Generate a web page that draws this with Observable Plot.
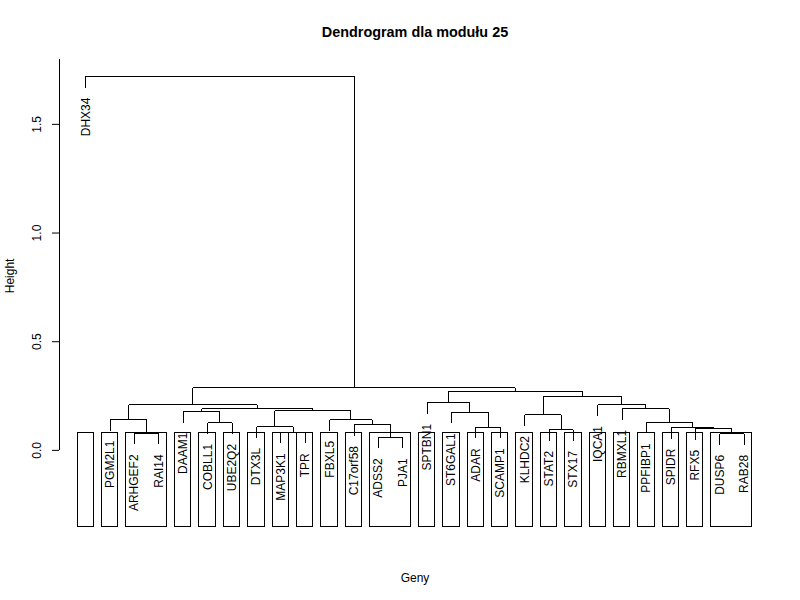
<!DOCTYPE html>
<html>
<head>
<meta charset="utf-8">
<script src="https://cdn.jsdelivr.net/npm/d3@7"></script>
<script src="https://cdn.jsdelivr.net/npm/@observablehq/plot@0.6"></script>
<style>
  html, body { margin: 0; padding: 0; background: white; }
  #chart svg { display: block; }
</style>
</head>
<body>
<div id="chart"></div>
<script>
// Leaf labels in dendrogram order
const leaves = ["DHX34","PGM2L1","ARHGEF2","RAI14","DAAM1","COBLL1","UBE2Q2","DTX3L","MAP3K1","TPR",
  "FBXL5","C17orf58","ADSS2","PJA1","SPTBN1","ST6GAL1","ADAR","SCAMP1","KLHDC2","STAT2",
  "STX17","IQCA1","RBMXL1","PPFIBP1","SPIDR","RFX5","DUSP6","RAB28"];

// hclust-style merge table: negative = leaf (1-based position), positive = earlier merge step (1-based)
const mergeLeft  = [-13,-27,-3,-9,-20,-26,-17,-25,-8,-12,-6,-24,-11,-2,-19,-16,-5, 9,17,-23,14,-22,-15,15,23,21,-1];
const mergeRight = [-14,-28,-4,-10,-21, 2,-18, 6, 4,  1,-7,  8, 10, 3,  5,  7,11,13,18, 12,19, 20, 16,22,24,25,26];
const mergeHeight = [0.061,0.077,0.079,0.084,0.095,0.100,0.107,0.106,0.109,0.118,0.1275,0.130,0.141,0.1426,
  0.164,0.176,0.1795,0.1827,0.191,0.192,0.2103,0.210,0.2195,0.250,0.2715,0.2885,1.721];

const nClusters = 25;   // rect.hclust k
const hang = 0.03;      // plot.hclust hang
const yTicks = [0, 0.5, 1.0, 1.5];

// R-like plot region (usr)
const xDomain = [1 - 0.04 * (leaves.length - 1), leaves.length + 0.04 * (leaves.length - 1)];
const yDomain = [-0.3526, 1.7985];

// ---- layout of the dendrogram ----
const maxH = d3.max(mergeHeight);
const hangH = hang * maxH;
const nodeX = [], nodeY = [];
const childX = c => c < 0 ? -c : nodeX[c - 1];
const segs = [];
const leafInfo = [];
mergeHeight.forEach((h, i) => {
  const a = mergeLeft[i], b = mergeRight[i];
  const xa = childX(a), xb = childX(b);
  nodeX[i] = (xa + xb) / 2; nodeY[i] = h;
  segs.push({x1: xa, y1: h, x2: xb, y2: h});
  for (const [c, xc] of [[a, xa], [b, xb]]) {
    const yc = c < 0 ? h - hangH : mergeHeight[c - 1];
    segs.push({x1: xc, y1: h, x2: xc, y2: yc});
    if (c < 0) leafInfo.push({x: xc, y: yc, label: leaves[-c - 1]});
  }
});

// ---- rect.hclust boxes ----
const sortedH = [...mergeHeight].sort((p, q) => p - q);
const nm = mergeHeight.length;
const cutH = (sortedH[nm - nClusters] + sortedH[nm - nClusters + 1]) / 2;
const memberLeaves = [];
const leafSet = c => c < 0 ? [-c] : memberLeaves[c - 1];
mergeHeight.forEach((h, i) => memberLeaves[i] = [...leafSet(mergeLeft[i]), ...leafSet(mergeRight[i])]);
const parentOf = d3.range(leaves.length + 1);
const find = k => parentOf[k] === k ? k : (parentOf[k] = find(parentOf[k]));
mergeHeight.forEach((h, i) => {
  if (h < cutH) {
    const m = memberLeaves[i];
    m.forEach(l => parentOf[find(l)] = find(m[0]));
  }
});
const groups = d3.groups(d3.range(1, leaves.length + 1), l => find(l));
const boxes = groups.map(([, ls]) => ({x1: d3.min(ls) - 0.34, x2: d3.max(ls) + 0.33, y1: yDomain[0], y2: cutH}));

const chart = Plot.plot({
  width: 800,
  height: 600,
  marginLeft: 59,
  marginRight: 30,
  marginTop: 59,
  marginBottom: 73.5,
  x: {domain: xDomain, axis: null},
  y: {domain: yDomain, axis: null},
  style: {fontFamily: "'Liberation Sans', Arial, Helvetica, sans-serif", fontSize: "12px", background: "white", color: "black"},
  marks: [
    Plot.link(segs, {x1: "x1", y1: "y1", x2: "x2", y2: "y2", stroke: "black", strokeWidth: 1, shapeRendering: "crispEdges"}),
    Plot.text(leafInfo, {x: "x", y: "y", text: "label", rotate: -90, textAnchor: "end", lineAnchor: "middle", dy: 10, fill: "black", fontSize: 12}),
    Plot.rect(boxes, {x1: "x1", x2: "x2", y1: "y1", y2: "y2", fill: "none", stroke: "black", strokeWidth: 1, shapeRendering: "crispEdges"}),
    // y axis
    Plot.ruleX([xDomain[0]], {y1: 0, y2: yDomain[1], stroke: "black", shapeRendering: "crispEdges"}),
    Plot.axisY({ticks: yTicks, tickSize: 7, tickFormat: () => "", label: null, stroke: "black", anchor: "left"}),
    Plot.text(yTicks, {x: () => xDomain[0], y: d => d, text: d => d3.format(".1f")(d), rotate: -90, textAnchor: "middle", lineAnchor: "bottom", dx: -19, fill: "black", fontSize: 12}),
    // titles
    Plot.text(["Dendrogram dla modułu 25"], {frameAnchor: "top", dy: -27.3, lineAnchor: "middle", fontWeight: "bold", fontSize: 14.4, fill: "black"}),
    Plot.text(["Geny"], {frameAnchor: "bottom", dy: 51.5, lineAnchor: "middle", fontSize: 12, fill: "black"}),
    Plot.text(["Height"], {frameAnchor: "left", dx: -49, rotate: -90, lineAnchor: "middle", fontSize: 12, fill: "black"})
  ]
});
document.getElementById("chart").appendChild(chart);
</script>
</body>
</html>
